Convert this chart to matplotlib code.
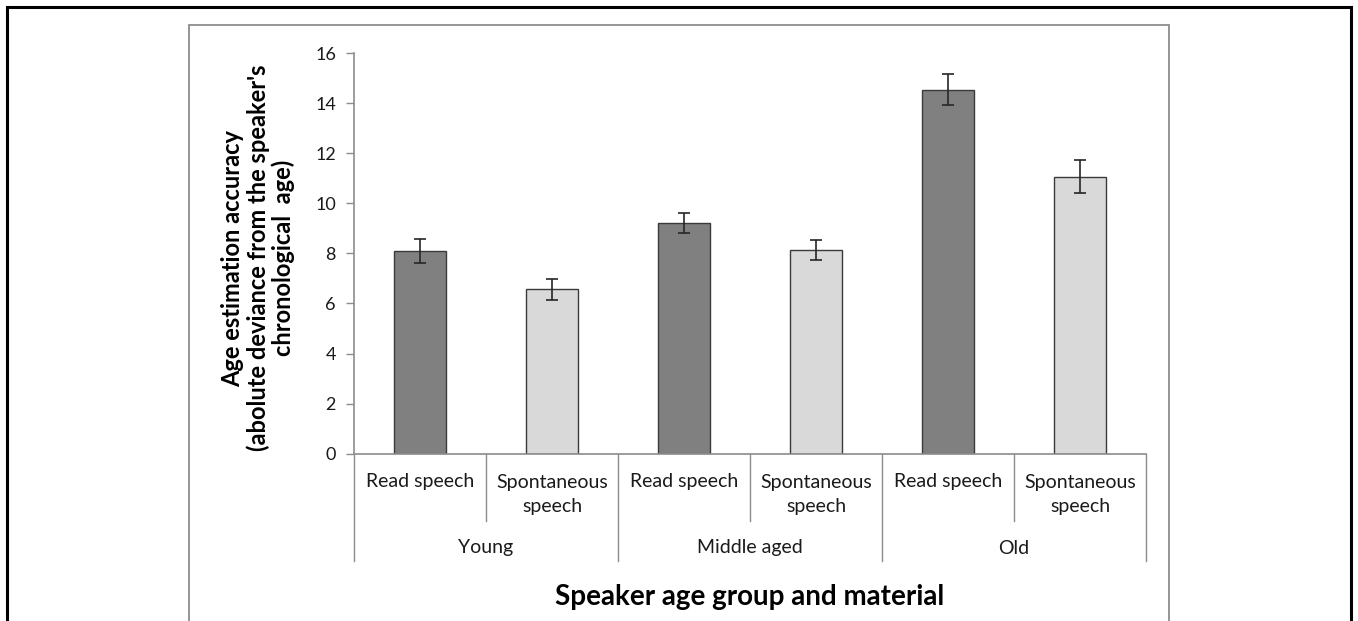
import numpy as np
import matplotlib
matplotlib.use("Agg")
from matplotlib import pyplot as plt
from matplotlib.patches import Rectangle
import matplotlib.transforms as mtransforms

plt.rcParams['font.family'] = ['Lato', 'DejaVu Sans']

# data
groups = ["Young", "Middle aged", "Old"]
materials = ["Read speech", "Spontaneous\nspeech"]
read_means = [8.09, 9.21, 14.54]
spont_means = [6.56, 8.13, 11.06]
read_err = [0.48, 0.41, 0.61]
spont_err = [0.41, 0.40, 0.65]
y_ticks = [0, 2, 4, 6, 8, 10, 12, 14, 16]

W, H = 1358, 621
fig = plt.figure(figsize=(W / 100, H / 100), dpi=100)

def fx(px):
    return px / W

def fy(py):
    return 1 - py / H

# outer black frame and inner gray chart box (bottom edges are cut off)
fig.patches.append(Rectangle((fx(7), fy(640)), fx(1351) - fx(7), fy(7) - fy(640),
                             transform=fig.transFigure, fill=False, ec='black', lw=2.2))
fig.patches.append(Rectangle((fx(189), fy(640)), fx(1169) - fx(189), fy(25) - fy(640),
                             transform=fig.transFigure, fill=False, ec='#8c8c8c', lw=1.3))

ax = fig.add_axes([fx(354), fy(453.7), fx(1146) - fx(354), fy(53) - fy(453.7)])

# interleave read / spontaneous per group
means, errs, colors = [], [], []
for i in range(len(groups)):
    means += [read_means[i], spont_means[i]]
    errs += [read_err[i], spont_err[i]]
    colors += ['#808080', '#d9d9d9']
x = np.arange(len(means))

ax.bar(x, means, width=0.4, color=colors, edgecolor='#3a3a3a', linewidth=1.0, zorder=2)
ax.errorbar(x, means, yerr=errs, fmt='none', ecolor='#262626', elinewidth=1.2,
            capsize=4, capthick=1.2, zorder=3)

ax.set_xlim(-0.5, len(means) - 0.5)
ax.set_ylim(0, 16)
ax.set_yticks(y_ticks)
ax.tick_params(axis='y', length=6, width=1, color='#8c8c8c', labelsize=13,
               labelcolor='#1a1a1a', pad=7)
ax.set_xticks([])
for s in ['top', 'right']:
    ax.spines[s].set_visible(False)
for s in ['left', 'bottom']:
    ax.spines[s].set_color('#8c8c8c')
    ax.spines[s].set_linewidth(1.2)

# multi-level category axis below the plot
axh = 453.7 - 53
def ay(py):
    return (453.7 - py) / axh

trans = mtransforms.blended_transform_factory(ax.transData, ax.transAxes)
bounds = np.arange(len(means) + 1) - 0.5
for k, b in enumerate(bounds):
    bottom = 561 if k % 2 == 0 else 521
    ax.plot([b, b], [0, ay(bottom)], transform=trans, color='#8c8c8c', lw=1.0,
            clip_on=False)

for i in range(len(means)):
    lab = materials[i % 2]
    yy = ay(494.5) if '\n' in lab else ay(482)
    ax.text(x[i], yy, lab, transform=trans, ha='center', va='center',
            fontsize=14, color='#1a1a1a', linespacing=1.5)

for g, name in enumerate(groups):
    ax.text(2 * g + 0.5, ay(548), name, transform=trans, ha='center', va='center',
            fontsize=14, color='#1a1a1a')

fig.text(fx(750), fy(597), "Speaker age group and material", ha='center', va='center',
         fontsize=20, fontweight='bold', color='black')

fig.text(fx(258), fy(258),
         "Age estimation accuracy\n(abolute deviance from the speaker's\nchronological  age)",
         rotation=90, ha='center', va='center', fontsize=17, fontweight='bold',
         color='black', linespacing=1.08, multialignment='center')

fig.savefig('out.png', dpi=100)
